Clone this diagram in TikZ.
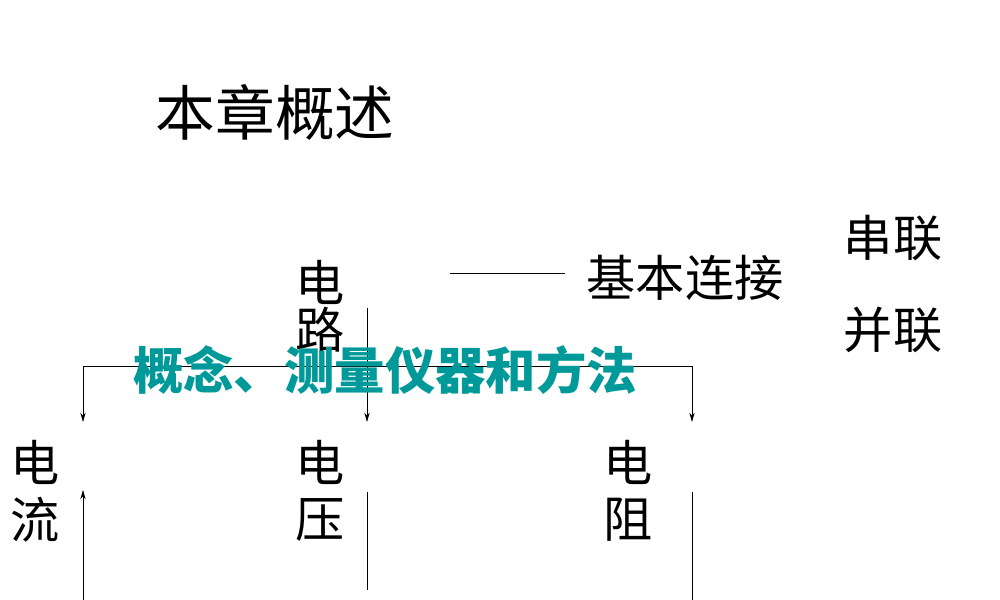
\documentclass[tikz,border=0pt]{standalone}
\usepackage{fontspec}
\usetikzlibrary{arrows.meta}
\newfontfamily\cjk{Noto Sans CJK SC}
\begin{document}
\begin{tikzpicture}[x=0.03cm,y=-0.03cm,
  big/.style={font=\cjk\fontsize{42}{44}\selectfont,inner sep=0pt},
  teal/.style={font=\cjk\bfseries\fontsize{43}{45}\selectfont,text={rgb,255:red,0;green,153;blue,153},inner sep=0pt},
  ln/.style={draw=black,line width=0.5pt},
  arr/.style={ln,-{Stealth[length=8pt,width=4.5pt]}}]
\useasboundingbox (0,0) rectangle (1000,600);
\node[big,font=\cjk\fontsize{51}{53}\selectfont] (title) at (275,112) {本章概述};
\node[big] (d1) at (320,282) {电};
\node[big] (lu) at (320,330) {路};
\coordinate (la) at (450,273); \coordinate (lb) at (565,273);
\draw[ln] (la) -- (lb);
\node[big] (jb) at (685,278) {基本连接};
\node[big] (cl) at (893,238) {串联};
\node[big] (bl) at (893,330) {并联};
\coordinate (v0) at (367,308); \coordinate (v1) at (367,422);
\coordinate (hl) at (83,366); \coordinate (hr) at (692,366);
\coordinate (al) at (83,422); \coordinate (ar) at (692,422);
\draw[ln] (hl) -- (hr);
\draw[arr] (v0) -- (v1);
\draw[arr] (hl) -- (al);
\draw[arr] (hr) -- (ar);
\node[teal] (gn) at (385,370) {概念、测量仪器和方法};
\node[big] (e1) at (35,462) {电};
\node[big] (e2) at (35,520) {流};
\node[big] (e3) at (320,462) {电};
\node[big] (e4) at (320,520) {压};
\node[big] (e5) at (628,462) {电};
\node[big] (e6) at (628,520) {阻};
\coordinate (u0) at (83,600); \coordinate (u1) at (83,490);
\draw[arr] (u0) -- (u1);
\coordinate (m0) at (367,492); \coordinate (m1) at (367,590);
\draw[ln] (m0) -- (m1);
\coordinate (r0) at (692,492); \coordinate (r1) at (692,600);
\draw[ln] (r0) -- (r1);
\end{tikzpicture}
\end{document}
